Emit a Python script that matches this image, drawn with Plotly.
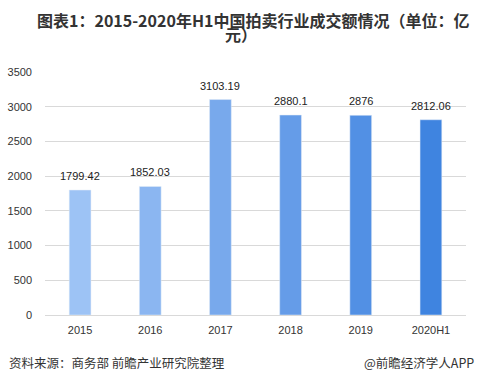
import plotly.graph_objects as go

categories = ["2015", "2016", "2017", "2018", "2019", "2020H1"]
values = [1799.42, 1852.03, 3103.19, 2880.1, 2876, 2812.06]
labels = ["1799.42", "1852.03", "3103.19", "2880.1", "2876", "2812.06"]
colors = ["#9DC3F5", "#8BB6F1", "#78A9EC", "#659CE8", "#5290E4", "#3F84E0"]
y_ticks = [0, 500, 1000, 1500, 2000, 2500, 3000, 3500]

font_cjk = "Noto Sans CJK SC, Microsoft YaHei, sans-serif"
font_lat = "Liberation Sans, Arial, sans-serif"

fig = go.Figure()
fig.add_trace(go.Bar(
    x=categories, y=values, marker_color=colors, width=0.31,
    hoverinfo="skip",
))

annotations = []
for i, (v, t) in enumerate(zip(values, labels)):
    annotations.append(dict(
        x=i, y=v, xref="x", yref="y", text=t, showarrow=False,
        xanchor="center", yanchor="bottom", yshift=6,
        font=dict(size=11, color="#222222", family=font_lat),
    ))

annotations += [
    dict(text="<b>图表1：2015-2020年H1中国拍卖行业成交额情况（单位：亿</b>",
         xref="paper", yref="paper", x=0.5, y=1, xanchor="center", yanchor="middle",
         xshift=-3, yshift=52,
         showarrow=False, font=dict(size=16, color="#333333", family=font_cjk)),
    dict(text="<b>元）</b>",
         xref="paper", yref="paper", x=0.5, y=1, xanchor="center", yanchor="middle",
         xshift=-15, yshift=38,
         showarrow=False, font=dict(size=16, color="#333333", family=font_cjk)),
    dict(text="资料来源：商务部 前瞻产业研究院整理", xref="paper", yref="paper",
         x=0, y=0, xanchor="left", yanchor="middle", xshift=-38, yshift=-47,
         showarrow=False, font=dict(size=12.5, color="#333333", family=font_cjk)),
    dict(text="@前瞻经济学人APP", xref="paper", yref="paper",
         x=1, y=0, xanchor="right", yanchor="middle", xshift=10, yshift=-47,
         showarrow=False, font=dict(size=12.5, color="#333333", family=font_cjk)),
]

fig.update_layout(
    width=479, height=388,
    margin=dict(l=45, r=13, t=72, b=73, autoexpand=False),
    paper_bgcolor="white", plot_bgcolor="white",
    showlegend=False,
    xaxis=dict(
        type="category", range=[-0.5, 5.5], showgrid=False, showline=True,
        linecolor="#D9D9D9", linewidth=1,
        ticks="", automargin=False,
        tickfont=dict(size=11, color="#333333", family=font_lat),
        ticklabelstandoff=5,
    ),
    yaxis=dict(
        range=[0, 3500], tickvals=y_ticks, showgrid=True, gridcolor="#D9D9D9", gridwidth=1,
        zeroline=False, showline=False, ticks="", automargin=False,
        tickfont=dict(size=11, color="#333333", family=font_lat),
        ticklabelstandoff=12,
    ),
    annotations=annotations,
)

fig.write_html("out.html", post_script="document.body.style.margin='0';",
               config={"displayModeBar": False})
